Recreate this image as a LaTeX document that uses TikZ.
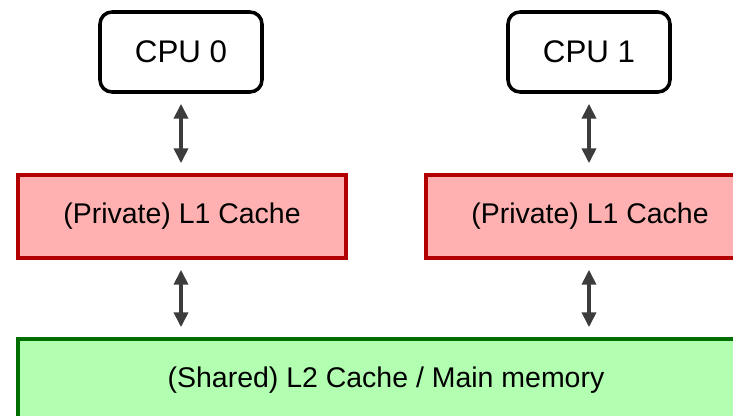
\documentclass[tikz,border=0pt]{standalone}
\usepackage{fontspec}
\setmainfont{Liberation Sans}
\usepackage{tikz}
\usetikzlibrary{positioning, arrows.meta}
\definecolor{privfill}{HTML}{FFB1B1}
\definecolor{privline}{HTML}{B20000}
\definecolor{sharedfill}{HTML}{B2FFB2}
\definecolor{sharedline}{HTML}{006E00}
\definecolor{busline}{HTML}{3C3C3C}
\tikzset{
  cpu/.style={draw, rounded corners=0.24cm, line width=2pt, minimum width=3.24cm, minimum height=1.6cm, font=\fontsize{17.8}{21}\selectfont},
  private/.style={draw=privline, fill=privfill, line width=2pt, minimum width=6.56cm, minimum height=1.66cm},
  shared/.style={draw=sharedline, fill=sharedfill, line width=2pt, minimum width=14.72cm, minimum height=1.64cm},
  bus/.style={{Triangle[width=8pt,length=8.5pt]}-{Triangle[width=8pt,length=8.5pt]}, busline, line width=2pt, shorten <=0.2cm, shorten >=0.2cm}
}
\def\link{\draw[bus]}

\begin{document}
\begin{tikzpicture}[font=\fontsize{16.2}{19}\selectfont]
            \useasboundingbox (0,0) rectangle (14.66,-8.32);
            \node [cpu] (C0) at (3.62,-1.04) {CPU 0};
            \node [cpu] (C1) at (11.78,-1.04) {CPU 1};
            \node [private] (P0) at (3.64,-4.33) {(Private) L1 Cache};
            \node [private] (P1) at (11.8,-4.33) {(Private) L1 Cache};
            \node [shared] (S) at (7.72,-7.6) {(Shared) L2 Cache / Main memory};

            \link (C0.south) -- (C0.south |- P0.north);
            \link (C1.south) -- (C1.south |- P1.north);
            \link (C0.south |- P0.south) -- (C0.south |- S.north);
            \link (C1.south |- P1.south) -- (C1.south |- S.north);
        \end{tikzpicture}
\end{document}
